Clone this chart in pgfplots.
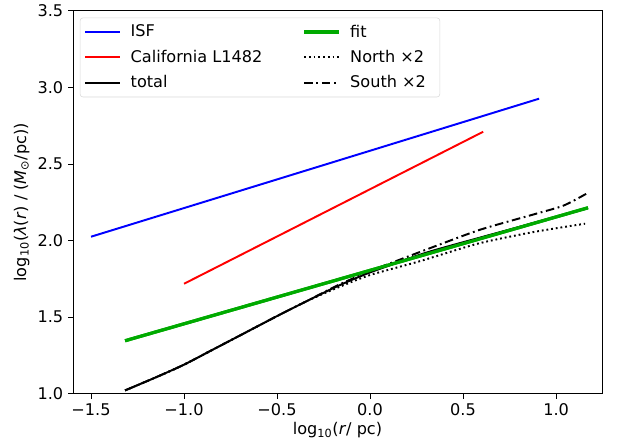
\documentclass[border=0pt]{standalone}
\usepackage{pgfplots}
\pgfplotsset{compat=1.18}
\usepackage{fontspec}
\setmainfont{DejaVu Sans}
\definecolor{fitgreen}{RGB}{0,170,0}
\tikzset{mydot/.style={dash pattern=on 1.3pt off 2.1pt}, mydashdot/.style={dash pattern=on 6.2pt off 2.6pt on 1.3pt off 2.6pt}}
\begin{document}
\begin{tikzpicture}
\begin{axis}[
  scale only axis,
  width=380.9pt, height=275.8pt,
  xmin=-1.597, xmax=1.247, ymin=1.0, ymax=3.5,
  xtick={-1.5,-1.0,-0.5,0.0,0.5,1.0},
  xticklabels={−1.5,−1.0,−0.5,0.0,0.5,1.0},
  ytick={1.0,1.5,2.0,2.5,3.0,3.5},
  yticklabels={1.0,1.5,2.0,2.5,3.0,3.5},
  tick align=outside, xtick pos=bottom, ytick pos=left,
  major tick length=3.5pt,
  tick style={black, line width=0.6pt},
  axis line style={line width=0.6pt},
  ticklabel style={font=\fontsize{11.6}{13}\selectfont},
  label style={font=\fontsize{11.6}{13}\selectfont},
  xlabel={log\textsubscript{10}(\textit{r}/ pc)},
  ylabel={log\textsubscript{10}(\textit{λ}(\textit{r}) / (\textit{M}\textsubscript{⊙}/pc))},
  xlabel style={yshift=2pt},
  ylabel style={yshift=-1pt},
  legend columns=2,
  legend cell align=left,
  legend style={at={(0.013,0.982)}, anchor=north west, draw=black!15, rounded corners=2pt,
    font=\fontsize{11.6}{13}\selectfont, inner xsep=3pt, inner ysep=3pt,
    /tikz/every even column/.append style={column sep=22pt},
    /tikz/every odd column/.append style={column sep=0pt},
    nodes={inner xsep=7pt}, row sep=4pt},
  legend image code/.code={\draw[#1] (0pt,0pt) -- (25pt,0pt);},
]
\addplot[blue, line width=1.4pt, forget plot] coordinates {(-1.5,2.025) (0.909,2.926)};
\addplot[fitgreen, line width=2.3pt, forget plot] coordinates {(-1.317,1.346) (1.172,2.214)};
\addplot[red, line width=1.4pt, forget plot] coordinates {(-1.0,1.718) (0.608,2.710)};
\addplot[black, line width=1.4pt, forget plot, smooth, tension=0.4] coordinates {
(-1.317,1.022) (-1.15,1.108) (-1.0,1.19) (-0.85,1.285) (-0.7,1.38) (-0.5,1.507) (-0.34,1.605)
(-0.17,1.705) (0,1.792) (0.3,1.92) (0.6,2.022) (0.8,2.088) (1.0,2.155) (1.17,2.212)};
\addplot[black, line width=1.4pt, mydot, forget plot, smooth, tension=0.4] coordinates {
(-1.317,1.022) (-1.15,1.108) (-1.0,1.19) (-0.85,1.285) (-0.7,1.38) (-0.5,1.507) (-0.34,1.605)
(-0.17,1.695) (0,1.775) (0.27,1.866) (0.58,1.98) (0.876,2.055) (1.156,2.11)};
\addplot[black, line width=1.4pt, mydashdot, forget plot, smooth, tension=0.4] coordinates {
(-1.317,1.022) (-1.15,1.108) (-1.0,1.19) (-0.85,1.285) (-0.7,1.38) (-0.5,1.507) (-0.34,1.605)
(-0.17,1.71) (0,1.80) (0.3,1.94) (0.59,2.07) (0.878,2.17) (1.04,2.228) (1.165,2.307)};
\addplot[fitgreen, line width=2.3pt, forget plot] coordinates {(-1.317,1.346) (1.172,2.214)};
\addlegendimage{blue, line width=1.4pt}
\addlegendentry{ISF}
\addlegendimage{fitgreen, line width=2.3pt}
\addlegendentry{fit}
\addlegendimage{red, line width=1.4pt}
\addlegendentry{California L1482}
\addlegendimage{black, line width=1.4pt, mydot}
\addlegendentry{North ×2}
\addlegendimage{black, line width=1.4pt}
\addlegendentry{total}
\addlegendimage{black, line width=1.4pt, mydashdot}
\addlegendentry{South ×2}
\end{axis}
\path ([xshift=-52.56pt,yshift=-38.16pt]current axis.south west) rectangle ([xshift=12.96pt,yshift=5.76pt]current axis.north east);
\end{tikzpicture}
\end{document}
